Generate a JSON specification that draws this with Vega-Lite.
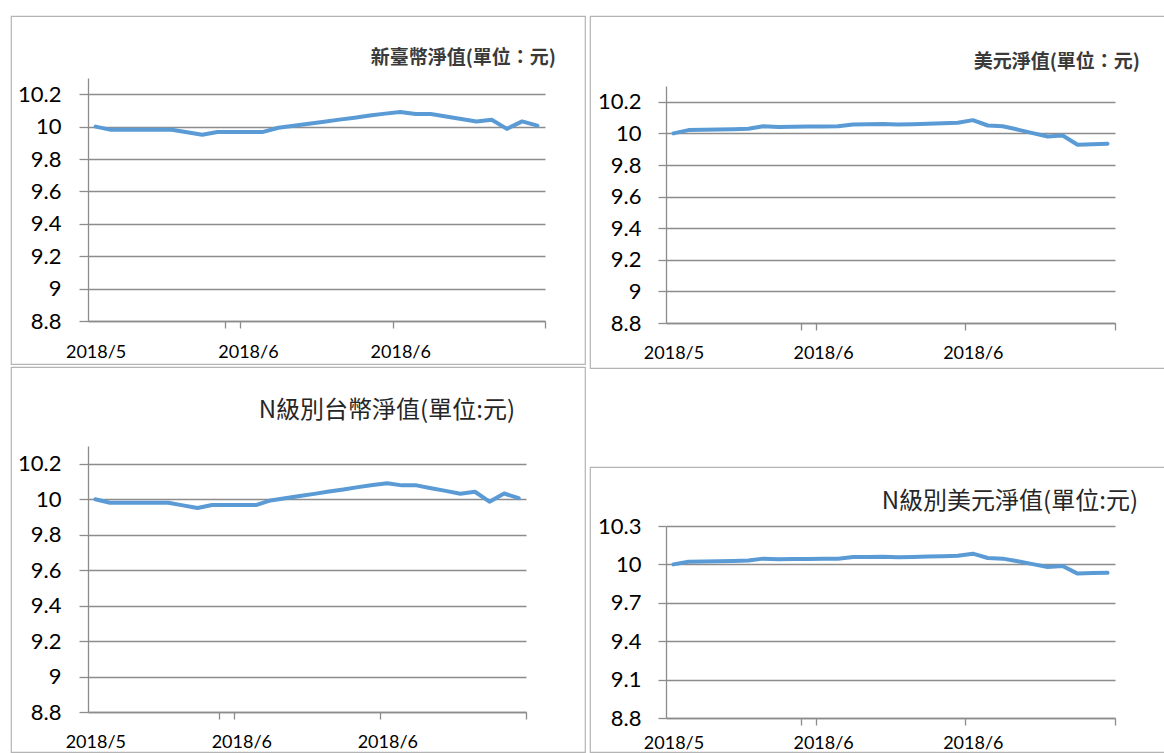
{
  "$schema": "https://vega.github.io/schema/vega-lite/v6.json",
  "background": "white",
  "padding": {"left": 10, "top": 15, "right": 0, "bottom": 0},
  "datasets": {
    "twd": [
      {"date": "2018-05-18", "nav": 10.0},
      {"date": "2018-05-21", "nav": 9.98},
      {"date": "2018-05-22", "nav": 9.98},
      {"date": "2018-05-23", "nav": 9.98},
      {"date": "2018-05-24", "nav": 9.98},
      {"date": "2018-05-25", "nav": 9.98},
      {"date": "2018-05-28", "nav": 9.965},
      {"date": "2018-05-29", "nav": 9.95},
      {"date": "2018-05-30", "nav": 9.967},
      {"date": "2018-05-31", "nav": 9.967},
      {"date": "2018-06-01", "nav": 9.967},
      {"date": "2018-06-04", "nav": 9.967},
      {"date": "2018-06-05", "nav": 9.993},
      {"date": "2018-06-06", "nav": 10.005},
      {"date": "2018-06-07", "nav": 10.018},
      {"date": "2018-06-08", "nav": 10.03},
      {"date": "2018-06-11", "nav": 10.043},
      {"date": "2018-06-12", "nav": 10.055},
      {"date": "2018-06-13", "nav": 10.068},
      {"date": "2018-06-14", "nav": 10.08},
      {"date": "2018-06-15", "nav": 10.09},
      {"date": "2018-06-19", "nav": 10.078},
      {"date": "2018-06-20", "nav": 10.078},
      {"date": "2018-06-21", "nav": 10.062},
      {"date": "2018-06-22", "nav": 10.047},
      {"date": "2018-06-25", "nav": 10.031},
      {"date": "2018-06-26", "nav": 10.042},
      {"date": "2018-06-27", "nav": 9.986},
      {"date": "2018-06-28", "nav": 10.032},
      {"date": "2018-06-29", "nav": 10.006}
    ],
    "usd": [
      {"date": "2018-05-18", "nav": 10.0},
      {"date": "2018-05-21", "nav": 10.021},
      {"date": "2018-05-22", "nav": 10.023},
      {"date": "2018-05-23", "nav": 10.025},
      {"date": "2018-05-24", "nav": 10.027},
      {"date": "2018-05-25", "nav": 10.03},
      {"date": "2018-05-28", "nav": 10.045},
      {"date": "2018-05-29", "nav": 10.041},
      {"date": "2018-05-30", "nav": 10.042},
      {"date": "2018-05-31", "nav": 10.043},
      {"date": "2018-06-01", "nav": 10.044},
      {"date": "2018-06-04", "nav": 10.045},
      {"date": "2018-06-05", "nav": 10.057},
      {"date": "2018-06-06", "nav": 10.058},
      {"date": "2018-06-07", "nav": 10.06},
      {"date": "2018-06-08", "nav": 10.056},
      {"date": "2018-06-11", "nav": 10.058},
      {"date": "2018-06-12", "nav": 10.061},
      {"date": "2018-06-13", "nav": 10.064},
      {"date": "2018-06-14", "nav": 10.067},
      {"date": "2018-06-15", "nav": 10.084},
      {"date": "2018-06-19", "nav": 10.05},
      {"date": "2018-06-20", "nav": 10.045},
      {"date": "2018-06-21", "nav": 10.024},
      {"date": "2018-06-22", "nav": 10.002},
      {"date": "2018-06-25", "nav": 9.98},
      {"date": "2018-06-26", "nav": 9.987},
      {"date": "2018-06-27", "nav": 9.928},
      {"date": "2018-06-28", "nav": 9.932},
      {"date": "2018-06-29", "nav": 9.934}
    ]
  },
  "hconcat": [
    {
      "spacing": 1,
      "vconcat": [
        {
          "width": 574,
          "height": 348,
          "data": {"name": "twd"},
          "title": {"text": "新臺幣淨值(單位：元)", "anchor": "end", "frame": "group", "offset": -61, "dx": -29, "baseline": "middle", "font": "Noto Sans CJK TC", "fontSize": 19, "fontWeight": "bold", "color": "#3a3a3a"},
          "mark": {"type": "line", "color": "#5B9BD5", "strokeWidth": 4, "strokeJoin": "round", "strokeCap": "round"},
          "encoding": {
            "x": {"field": "date", "type": "ordinal", "bandPosition": 0.5,
              "scale": {"type": "band", "range": [77, 534], "paddingInner": 0, "paddingOuter": 0},
              "axis": {"title": null, "values": ["2018-05-31", "2018-06-14", "2018-06-29"], "labelExpr": "datum.value ? utcFormat(toDate(datum.value), '%Y/%-m') : ''", "tickBand": "extent", "tickExtra": true, "labelOffset": -137.1, "offset": -43, "tickSize": 7, "labelPadding": 15, "labelAngle": 0, "labelFont": "Lato", "labelFontSize": 18, "labelColor": "#000000", "domainColor": "#8c8c8c", "tickColor": "#8c8c8c", "domainWidth": 1.3, "tickWidth": 1.3, "grid": false}},
            "y": {"field": "nav", "type": "quantitative",
              "scale": {"domain": [8.8, 10.3], "range": [305, 62], "nice": false, "zero": false},
              "axis": {"title": null, "values": [8.8, 9, 9.2, 9.4, 9.6, 9.8, 10, 10.2], "format": "~g", "offset": -77, "tickSize": 9, "labelPadding": 18, "labelFont": "Lato", "labelFontSize": 22, "labelColor": "#000000", "domainColor": "#8c8c8c", "tickColor": "#8c8c8c", "gridColor": "#8c8c8c", "domainWidth": 1.3, "tickWidth": 1.3, "gridWidth": 1.3, "grid": true}}
          }
        },
        {
          "width": 574,
          "height": 385,
          "data": {"name": "twd"},
          "title": {"text": "N級別台幣淨值(單位:元)", "anchor": "end", "frame": "group", "offset": -68, "dx": -70, "baseline": "middle", "font": "Noto Sans CJK TC", "fontSize": 24, "fontWeight": "normal", "color": "#262626"},
          "mark": {"type": "line", "color": "#5B9BD5", "strokeWidth": 4, "strokeJoin": "round", "strokeCap": "round"},
          "encoding": {
            "x": {"field": "date", "type": "ordinal", "bandPosition": 0.5,
              "scale": {"type": "band", "range": [77, 515], "paddingInner": 0, "paddingOuter": 0},
              "axis": {"title": null, "values": ["2018-05-31", "2018-06-14", "2018-06-29"], "labelExpr": "datum.value ? utcFormat(toDate(datum.value), '%Y/%-m') : ''", "tickBand": "extent", "tickExtra": true, "labelOffset": -131.4, "offset": -40, "tickSize": 7, "labelPadding": 14, "labelAngle": 0, "labelFont": "Lato", "labelFontSize": 18, "labelColor": "#000000", "domainColor": "#8c8c8c", "tickColor": "#8c8c8c", "domainWidth": 1.3, "tickWidth": 1.3, "grid": false}},
            "y": {"field": "nav", "type": "quantitative",
              "scale": {"domain": [8.8, 10.3], "range": [345, 79], "nice": false, "zero": false},
              "axis": {"title": null, "values": [8.8, 9, 9.2, 9.4, 9.6, 9.8, 10, 10.2], "format": "~g", "offset": -77, "tickSize": 9, "labelPadding": 18, "labelFont": "Lato", "labelFontSize": 22, "labelColor": "#000000", "domainColor": "#8c8c8c", "tickColor": "#8c8c8c", "gridColor": "#8c8c8c", "domainWidth": 1.3, "tickWidth": 1.3, "gridWidth": 1.3, "grid": true}}
          }
        }
      ]
    },
    {
      "spacing": 97,
      "vconcat": [
        {
          "width": 575,
          "height": 352,
          "data": {"name": "usd"},
          "title": {"text": "美元淨值(單位：元)", "anchor": "end", "frame": "group", "offset": -65, "dx": -25, "baseline": "middle", "font": "Noto Sans CJK TC", "fontSize": 19, "fontWeight": "bold", "color": "#3a3a3a"},
          "mark": {"type": "line", "color": "#5B9BD5", "strokeWidth": 4, "strokeJoin": "round", "strokeCap": "round"},
          "encoding": {
            "x": {"field": "date", "type": "ordinal", "bandPosition": 0.5,
              "scale": {"type": "band", "range": [76, 525], "paddingInner": 0, "paddingOuter": 0},
              "axis": {"title": null, "values": ["2018-05-31", "2018-06-14", "2018-06-29"], "labelExpr": "datum.value ? utcFormat(toDate(datum.value), '%Y/%-m') : ''", "tickBand": "extent", "tickExtra": true, "labelOffset": -134.7, "offset": -45, "tickSize": 7, "labelPadding": 14, "labelAngle": 0, "labelFont": "Lato", "labelFontSize": 18, "labelColor": "#000000", "domainColor": "#8c8c8c", "tickColor": "#8c8c8c", "domainWidth": 1.3, "tickWidth": 1.3, "grid": false}},
            "y": {"field": "nav", "type": "quantitative",
              "scale": {"domain": [8.8, 10.3], "range": [307, 70], "nice": false, "zero": false},
              "axis": {"title": null, "values": [8.8, 9, 9.2, 9.4, 9.6, 9.8, 10, 10.2], "format": "~g", "offset": -76, "tickSize": 8, "labelPadding": 17, "labelFont": "Lato", "labelFontSize": 22, "labelColor": "#000000", "domainColor": "#8c8c8c", "tickColor": "#8c8c8c", "gridColor": "#8c8c8c", "domainWidth": 1.3, "tickWidth": 1.3, "gridWidth": 1.3, "grid": true}}
          }
        },
        {
          "width": 575,
          "height": 285,
          "data": {"name": "usd"},
          "title": {"text": "N級別美元淨值(單位:元)", "anchor": "end", "frame": "group", "offset": -59, "dx": -27, "baseline": "middle", "font": "Noto Sans CJK TC", "fontSize": 24, "fontWeight": "normal", "color": "#262626"},
          "mark": {"type": "line", "color": "#5B9BD5", "strokeWidth": 4, "strokeJoin": "round", "strokeCap": "round"},
          "encoding": {
            "x": {"field": "date", "type": "ordinal", "bandPosition": 0.5,
              "scale": {"type": "band", "range": [76, 525], "paddingInner": 0, "paddingOuter": 0},
              "axis": {"title": null, "values": ["2018-05-31", "2018-06-14", "2018-06-29"], "labelExpr": "datum.value ? utcFormat(toDate(datum.value), '%Y/%-m') : ''", "tickBand": "extent", "tickExtra": true, "labelOffset": -134.7, "offset": -34, "tickSize": 7, "labelPadding": 9, "labelAngle": 0, "labelFont": "Lato", "labelFontSize": 18, "labelColor": "#000000", "domainColor": "#8c8c8c", "tickColor": "#8c8c8c", "domainWidth": 1.3, "tickWidth": 1.3, "grid": false}},
            "y": {"field": "nav", "type": "quantitative",
              "scale": {"domain": [8.8, 10.3], "range": [251, 59], "nice": false, "zero": false},
              "axis": {"title": null, "values": [8.8, 9.1, 9.4, 9.7, 10, 10.3], "format": "~g", "offset": -76, "tickSize": 8, "labelPadding": 17, "labelFont": "Lato", "labelFontSize": 22, "labelColor": "#000000", "domainColor": "#8c8c8c", "tickColor": "#8c8c8c", "gridColor": "#8c8c8c", "domainWidth": 1.3, "tickWidth": 1.3, "gridWidth": 1.3, "grid": true}}
          }
        }
      ]
    }
  ],
  "spacing": 3,
  "config": {
    "view": {"stroke": "#b4b4b4", "strokeWidth": 1.2},
    "title": {"subtitlePadding": 0}
  }
}
